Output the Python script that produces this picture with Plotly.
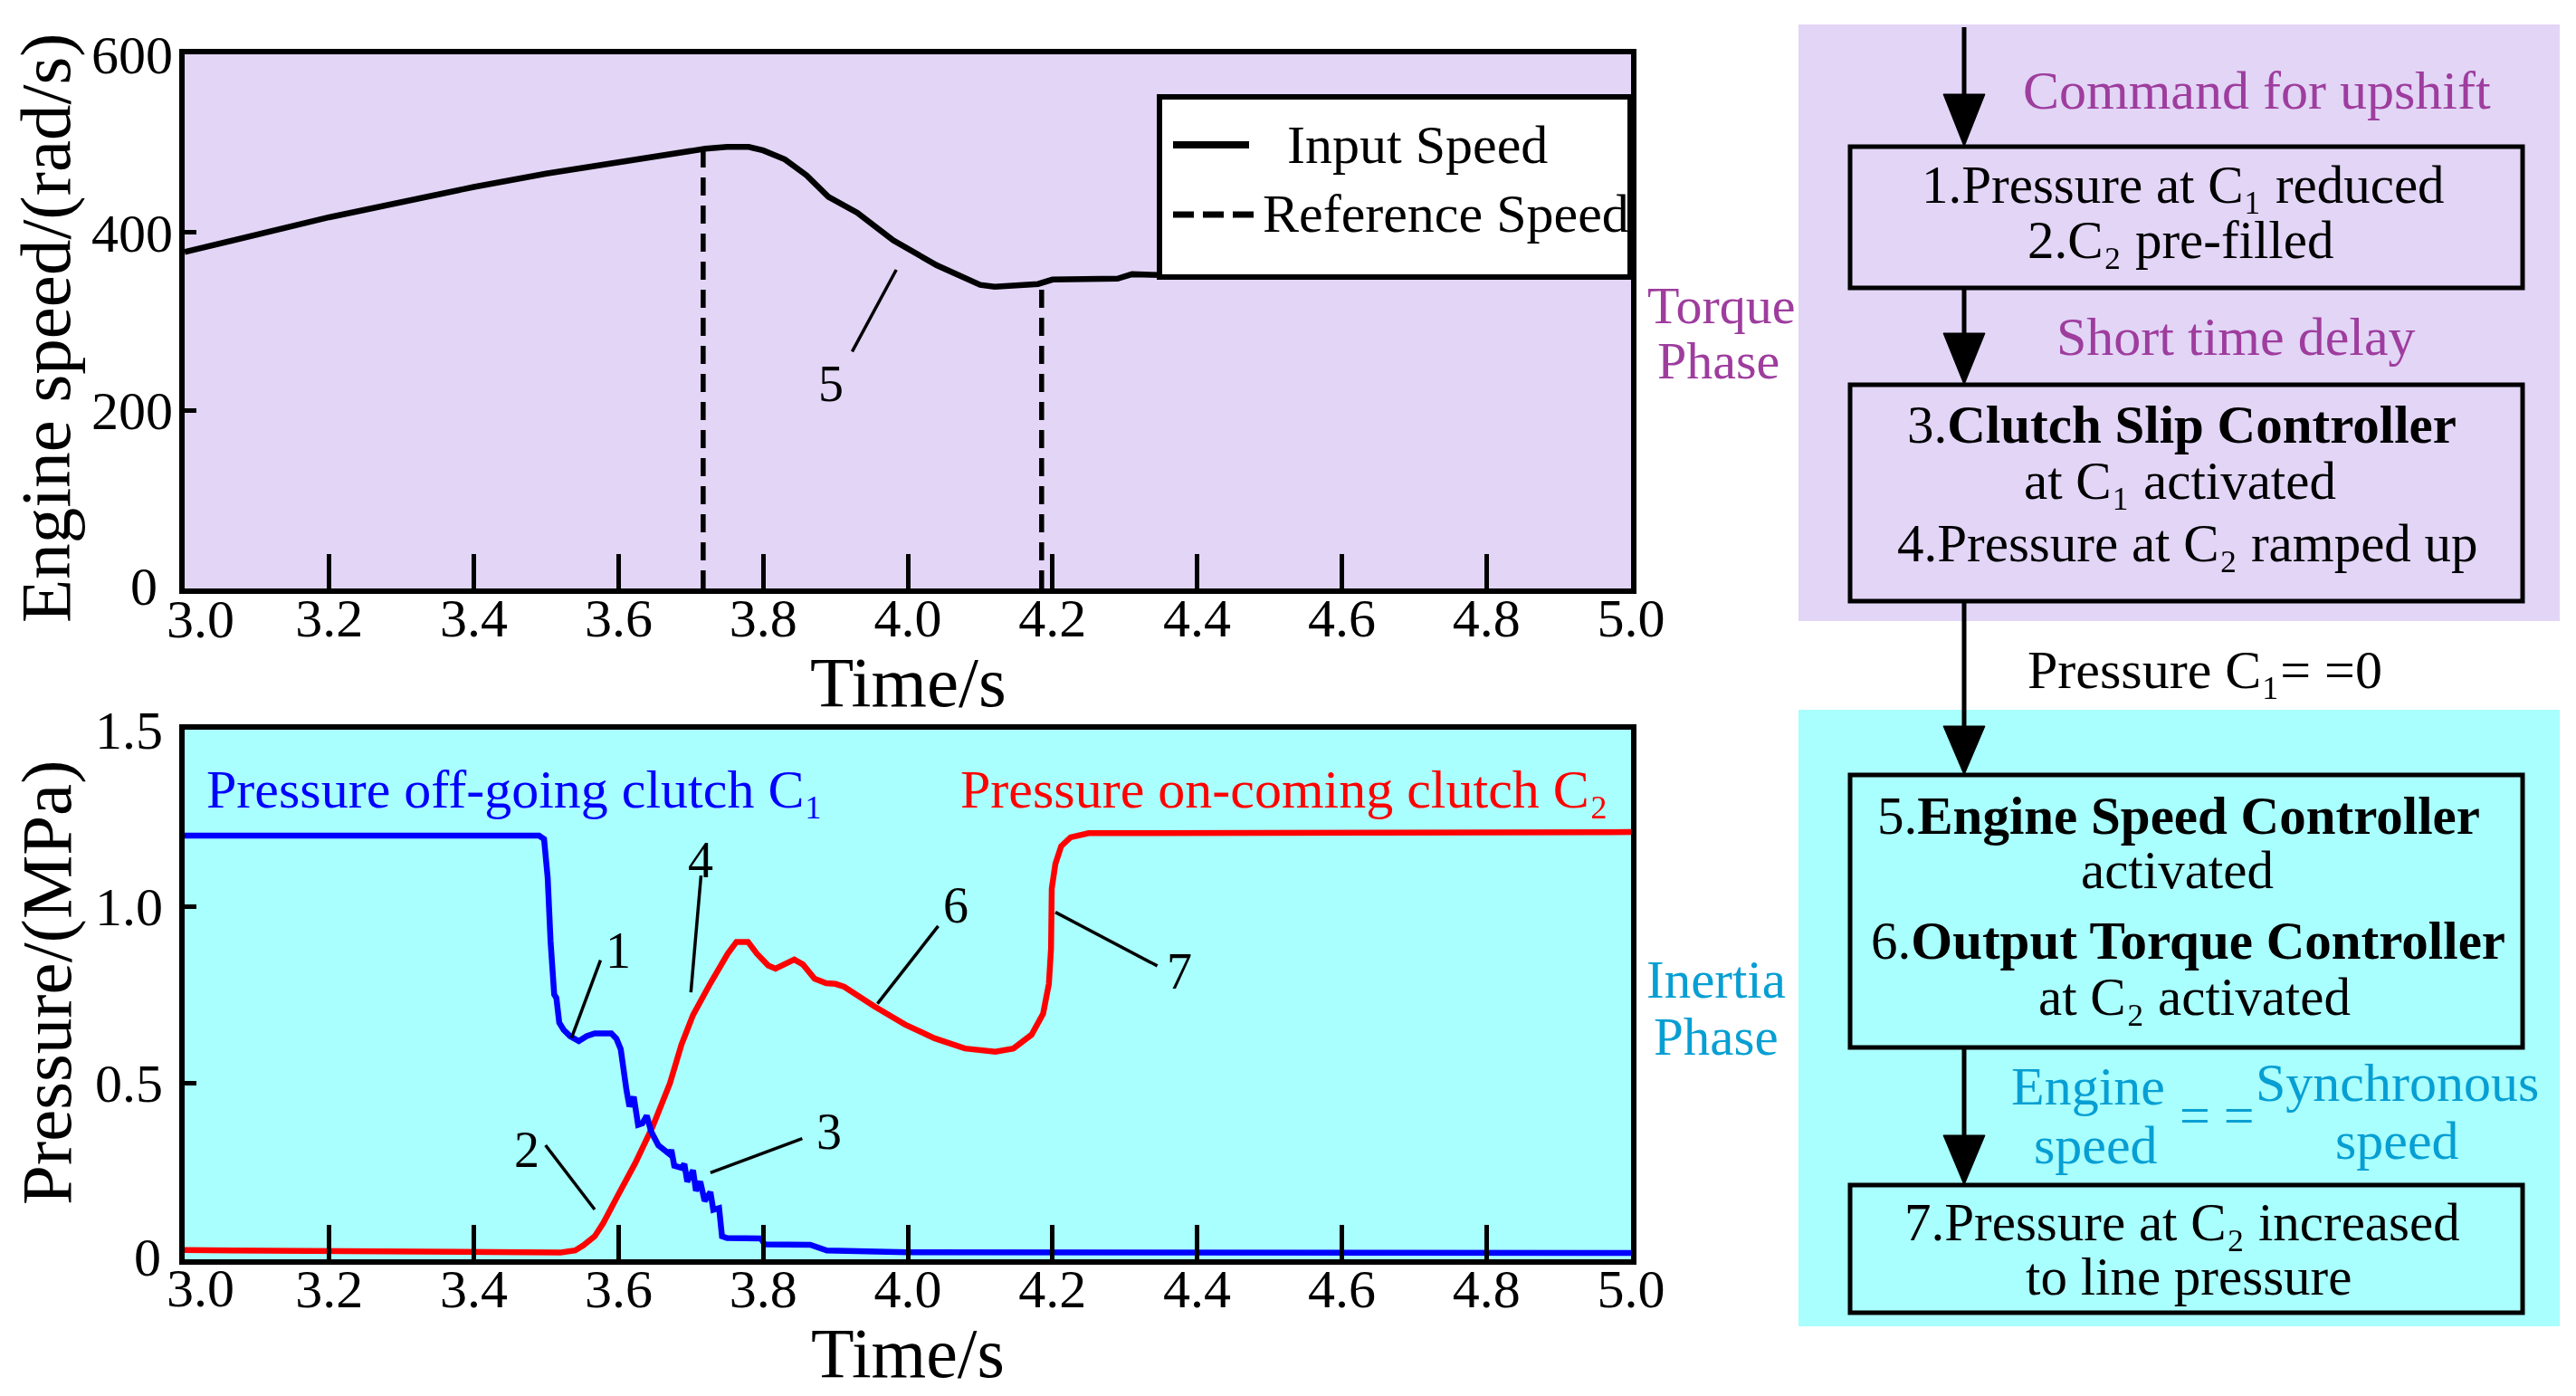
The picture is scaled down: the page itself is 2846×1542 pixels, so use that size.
import plotly.graph_objects as go

W, H = 2846, 1542

# ---------------- data ----------------
time_speed = [3.0, 3.1, 3.2, 3.3, 3.4, 3.5, 3.6, 3.65, 3.7, 3.72, 3.75, 3.78, 3.8, 3.83,
              3.86, 3.89, 3.93, 3.98, 4.04, 4.10, 4.12, 4.14, 4.18, 4.2, 4.29, 4.31, 4.35, 5.0]
input_speed = [378, 398, 417, 434, 451, 466, 479, 486, 492, 494, 496, 496, 492, 482,
               464, 440, 422, 391, 363, 341, 339, 340, 342, 347, 348, 353, 352, 352]

ref_time = [3.717, 3.717, None, 4.185, 4.185]
ref_speed = [0, 494, None, 0, 341]

time_c1 = [3.0, 3.3, 3.49, 3.497, 3.502, 3.506, 3.509, 3.511, 3.514, 3.518, 3.524, 3.533,
           3.545, 3.556, 3.567, 3.59, 3.597, 3.603, 3.611, 3.615, 3.621, 3.627, 3.633,
           3.639, 3.645, 3.655, 3.671, 3.673, 3.677, 3.687, 3.691, 3.695, 3.703, 3.707,
           3.713, 3.719, 3.727, 3.731, 3.739, 3.743, 3.75, 3.797, 3.802, 3.865, 3.888,
           4.0, 5.0]
pressure_c1 = [1.2, 1.2, 1.2, 1.19, 1.08, 0.9, 0.78, 0.75, 0.74, 0.67, 0.65, 0.632,
               0.618, 0.632, 0.64, 0.64, 0.625, 0.595, 0.478, 0.433, 0.46, 0.381, 0.385,
               0.407, 0.362, 0.323, 0.297, 0.31, 0.265, 0.259, 0.27, 0.22, 0.252, 0.194,
               0.22, 0.165, 0.19, 0.14, 0.145, 0.065, 0.06, 0.059, 0.042, 0.041, 0.025,
               0.02, 0.018]

time_c2 = [3.0, 3.2, 3.4, 3.52, 3.54, 3.551, 3.567, 3.579, 3.599, 3.623, 3.647, 3.671,
           3.687, 3.703, 3.727, 3.751, 3.763, 3.779, 3.791, 3.807, 3.817, 3.831, 3.843,
           3.855, 3.871, 3.887, 3.9, 3.912, 3.954, 3.996, 4.037, 4.079, 4.121, 4.146,
           4.171, 4.187, 4.195, 4.198, 4.198, 4.199, 4.204, 4.212, 4.225, 4.25, 5.0]
pressure_c2 = [0.026, 0.023, 0.02, 0.019, 0.025, 0.039, 0.065, 0.103, 0.181, 0.272, 0.375,
               0.498, 0.608, 0.692, 0.782, 0.866, 0.899, 0.899, 0.866, 0.832, 0.823, 0.835,
               0.849, 0.835, 0.795, 0.782, 0.78, 0.772, 0.716, 0.665, 0.626, 0.597, 0.588,
               0.597, 0.636, 0.695, 0.78, 0.88, 0.97, 1.05, 1.12, 1.17, 1.195, 1.207, 1.21]

# tick labels (the corner labels "3.0" and "0" are placed as separate texts,
# nudged away from the corner as in the original figure)
time_ticks = [3.0, 3.2, 3.4, 3.6, 3.8, 4.0, 4.2, 4.4, 4.6, 4.8, 5.0]
time_ticktext = ["", "3.2", "3.4", "3.6", "3.8", "4.0", "4.2", "4.4", "4.6", "4.8", "5.0"]
time_first_label = "3.0"
speed_ticks = [0, 200, 400, 600]
speed_ticktext = ["", "200", "400", "600"]
pressure_ticks = [0, 0.5, 1.0, 1.5]
pressure_ticktext = ["", "0.5", "1.0", "1.5"]
zero_label = "0"

C1 = "C\u2081"
C2 = "C\u2082"

# ---------------- style ----------------
FONT = "Liberation Serif, Times New Roman, serif"
LAV = "#E2D5F6"
CYAN = "#A9FEFE"
PURPLE = "#9E3D9E"
TEAL = "#079FD3"


def px(x):
    return x / W


def py(y):
    return 1 - y / H


fig = go.Figure()

fig.add_trace(go.Scatter(x=time_speed, y=input_speed, mode="lines", name="Input Speed",
                         line=dict(color="black", width=6.5), xaxis="x", yaxis="y",
                         showlegend=False))
fig.add_trace(go.Scatter(x=ref_time, y=ref_speed, mode="lines", name="Reference Speed",
                         line=dict(color="black", width=5.5, dash="20px,11px"),
                         xaxis="x", yaxis="y", showlegend=False, connectgaps=False))
fig.add_trace(go.Scatter(x=time_c2, y=pressure_c2, mode="lines",
                         name="Pressure on-coming clutch " + C2,
                         line=dict(color="#FF0000", width=6.5), xaxis="x2", yaxis="y2",
                         showlegend=False))
fig.add_trace(go.Scatter(x=time_c1, y=pressure_c1, mode="lines",
                         name="Pressure off-going clutch " + C1,
                         line=dict(color="#0000FF", width=6.5), xaxis="x2", yaxis="y2",
                         showlegend=False))

axis_common = dict(showline=True, linewidth=6, linecolor="black", mirror=True,
                   showgrid=False, zeroline=False, ticks="inside", tickcolor="black",
                   automargin=False,
                   tickfont=dict(family=FONT, size=60, color="black"))

xdom = [px(204), px(1802)]
fig.update_layout(
    width=W, height=H,
    margin=dict(l=0, r=0, t=0, b=0, pad=0),
    paper_bgcolor="white",
    plot_bgcolor=LAV,
    font=dict(family=FONT, color="black"),
    xaxis=dict(domain=xdom, anchor="y", range=[3.0, 5.0], tickvals=time_ticks,
               ticktext=time_ticktext, ticklen=38, tickwidth=5, ticklabelstandoff=-25,
               **axis_common),
    yaxis=dict(domain=[py(650), py(60)], anchor="x", range=[0, 600], tickvals=speed_ticks,
               ticktext=speed_ticktext, ticklen=13, tickwidth=5, ticklabelstandoff=-5,
               **axis_common),
    xaxis2=dict(domain=xdom, anchor="y2", range=[3.0, 5.0], tickvals=time_ticks,
                ticktext=time_ticktext, ticklen=38, tickwidth=5, ticklabelstandoff=-25,
                **axis_common),
    yaxis2=dict(domain=[py(1391), py(806)], anchor="x2", range=[0, 1.5],
                tickvals=pressure_ticks, ticktext=pressure_ticktext, ticklen=13,
                tickwidth=5, ticklabelstandoff=6,
                **axis_common),
)

shapes = []
annotations = []


def label(xref, yref, x, y, text, size=56, color="black", xanchor="center", angle=0):
    annotations.append(dict(xref=xref, yref=yref, x=x, y=y, text=text, showarrow=False,
                            xanchor=xanchor, yanchor="middle", textangle=angle,
                            font=dict(family=FONT, size=size, color=color)))


def leader(xref, yref, x0, y0, x1, y1):
    shapes.append(dict(type="line", xref=xref, yref=yref, x0=x0, y0=y0, x1=x1, y1=y1,
                       line=dict(color="black", width=3.5)))


# corner tick labels
label("paper", "paper", px(221), py(684), time_first_label, size=60)
label("paper", "paper", px(221), py(1423), time_first_label, size=60)
label("paper", "paper", px(176), py(648), zero_label, size=60, xanchor="right")
label("paper", "paper", px(180), py(1389), zero_label, size=60, xanchor="right")

# axis titles
label("paper", "paper", px(1003), py(753), "Time/s", size=79)
label("paper", "paper", px(1003), py(1494), "Time/s", size=78)
label("paper", "paper", px(50), py(362), "Engine speed/(rad/s)", size=79, angle=-90)
label("paper", "paper", px(51), py(1086), "Pressure/(MPa)", size=79, angle=-90)

# bottom plot background
shapes.append(dict(type="rect", xref="x2 domain", yref="y2 domain", x0=0, x1=1, y0=0, y1=1,
                   fillcolor=CYAN, line=dict(width=0), layer="below"))

# ---- legend of the top plot (drawn manually) ----
shapes.append(dict(type="rect", xref="paper", yref="paper", x0=px(1281), x1=px(1801),
                   y0=py(306), y1=py(107), fillcolor="white",
                   line=dict(color="black", width=6)))
shapes.append(dict(type="line", xref="paper", yref="paper", x0=px(1296), x1=px(1380),
                   y0=py(160), y1=py(160), line=dict(color="black", width=8)))
shapes.append(dict(type="line", xref="paper", yref="paper", x0=px(1296), x1=px(1385),
                   y0=py(237), y1=py(237), line=dict(color="black", width=7, dash="23px,10px")))
label("paper", "paper", px(1420), py(160), "Input Speed", size=60, xanchor="left")
label("paper", "paper", px(1393), py(236), "Reference Speed", size=60, xanchor="left")

# number callouts
leader("x", "y", 3.984, 358, 3.923, 266)
label("x", "y", 3.893, 230, "5")

leader("x2", "y2", 3.575, 0.847, 3.535, 0.627)
label("x2", "y2", 3.600, 0.874, "1")
leader("x2", "y2", 3.714, 1.087, 3.700, 0.756)
label("x2", "y2", 3.714, 1.132, "4")
leader("x2", "y2", 3.499, 0.323, 3.567, 0.141)
label("x2", "y2", 3.473, 0.31, "2")
leader("x2", "y2", 3.854, 0.342, 3.727, 0.245)
label("x2", "y2", 3.891, 0.362, "3")
leader("x2", "y2", 4.042, 0.944, 3.958, 0.724)
label("x2", "y2", 4.066, 1.003, "6")
leader("x2", "y2", 4.204, 0.983, 4.345, 0.831)
label("x2", "y2", 4.375, 0.815, "7")

# series labels
label("x2", "y2", 3.028, 1.331, "Pressure off-going clutch " + C1, size=60,
      color="#0000FF", xanchor="left")
label("x2", "y2", 4.971, 1.331, "Pressure on-coming clutch " + C2, size=60,
      color="#FF0000", xanchor="right")

# phase labels
label("paper", "paper", px(1901), py(337), "Torque", size=58, color=PURPLE)
label("paper", "paper", px(1898), py(399), "Phase", size=58, color=PURPLE)
label("paper", "paper", px(1896), py(1082), "Inertia", size=59, color=TEAL)
label("paper", "paper", px(1896), py(1145), "Phase", size=59, color=TEAL)

# ---------------- flowchart ----------------
shapes.append(dict(type="rect", xref="paper", yref="paper", x0=px(1987), x1=px(2828),
                   y0=py(686), y1=py(27), fillcolor=LAV, line=dict(width=0), layer="below"))
shapes.append(dict(type="rect", xref="paper", yref="paper", x0=px(1987), x1=px(2828),
                   y0=py(1465), y1=py(784), fillcolor=CYAN, line=dict(width=0), layer="below"))

for (top, bot) in [(162, 318), (425, 664), (856, 1157), (1309, 1450)]:
    shapes.append(dict(type="rect", xref="paper", yref="paper", x0=px(2044), x1=px(2787),
                       y0=py(bot), y1=py(top), line=dict(color="black", width=5),
                       fillcolor="rgba(0,0,0,0)"))

AX = 2170
for (y0, y1) in [(30, 110), (318, 372), (664, 806), (1157, 1258)]:
    shapes.append(dict(type="line", xref="paper", yref="paper", x0=px(AX), x1=px(AX),
                       y0=py(y0), y1=py(y1), line=dict(color="black", width=5)))

for (base, tip) in [(104, 162), (368, 425), (802, 856), (1254, 1309)]:
    path = "M {} {} L {} {} L {} {} Z".format(px(AX - 23), py(base), px(AX + 23), py(base),
                                             px(AX), py(tip))
    shapes.append(dict(type="path", xref="paper", yref="paper", path=path,
                       fillcolor="black", line=dict(color="black", width=1)))

FS = 59
label("paper", "paper", px(2493), py(100), "Command for upshift", size=60, color=PURPLE)
label("paper", "paper", px(2412), py(204), "1.Pressure at " + C1 + " reduced", size=FS)
label("paper", "paper", px(2409), py(265), "2." + C2 + " pre-filled", size=FS)
label("paper", "paper", px(2470), py(372), "Short time delay", size=60, color=PURPLE)
label("paper", "paper", px(2410), py(469), "3.<b>Clutch Slip Controller</b>", size=FS)
label("paper", "paper", px(2408), py(531), "at " + C1 + " activated", size=FS)
label("paper", "paper", px(2417), py(600), "4.Pressure at " + C2 + " ramped up", size=FS)
label("paper", "paper", px(2436), py(740), "Pressure " + C1 + "= =0", size=60)
label("paper", "paper", px(2407), py(901), "5.<b>Engine Speed Controller</b>", size=FS)
label("paper", "paper", px(2405), py(961), "activated", size=FS)
label("paper", "paper", px(2417), py(1039), "6.<b>Output Torque Controller</b>", size=FS)
label("paper", "paper", px(2424), py(1101), "at " + C2 + " activated", size=FS)
label("paper", "paper", px(2307), py(1200), "Engine", size=60, color=TEAL)
label("paper", "paper", px(2315), py(1265), "speed", size=60, color=TEAL)
label("paper", "paper", px(2449), py(1232), "= =", size=60, color=TEAL)
label("paper", "paper", px(2648), py(1196), "Synchronous", size=60, color=TEAL)
label("paper", "paper", px(2648), py(1260), "speed", size=60, color=TEAL)
label("paper", "paper", px(2411), py(1350), "7.Pressure at " + C2 + " increased", size=FS)
label("paper", "paper", px(2418), py(1410), "to line pressure", size=FS)

fig.update_layout(shapes=shapes, annotations=annotations)

fig.write_html("out.html",
               config={"displayModeBar": False},
               post_script="document.body.style.margin='0px';"
                           "document.body.style.padding='0px';")
